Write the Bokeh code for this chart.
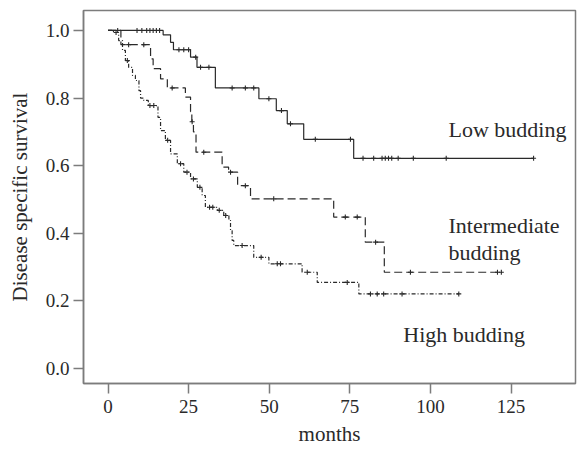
import numpy as np
from bokeh.plotting import figure
from bokeh.models import Range1d, FixedTicker, Label, PrintfTickFormatter
from bokeh.embed import file_html
from bokeh.resources import INLINE

# ---- data ----
low_times = [0, 17.1, 19.4, 20.3, 25.6, 27.6, 33.3, 46.8, 52.2, 55.6, 60.7, 76.2]
low_surv = [1.0, 0.987, 0.965, 0.943, 0.921, 0.891, 0.830, 0.798, 0.763, 0.724, 0.678, 0.622]
low_end = 132
low_censor = [3, 9, 10.5, 12, 13, 14, 15, 16, 22, 23.5, 25, 27.2, 28.7, 31.3, 38.5, 42.6,
              45.2, 49.9, 53.8, 56.6, 64.3, 75.2, 79.1, 82.4, 85, 86, 87, 88, 90, 94.7,
              104.9, 132]

mid_times = [0, 4.0, 13.2, 14.0, 16.3, 18.4, 24.0, 25.6, 26.0, 26.5, 27.3, 35.4, 37.4,
             40.2, 44.2, 70.0, 79.8, 85.7]
mid_surv = [1.0, 0.958, 0.916, 0.887, 0.857, 0.830, 0.803, 0.76, 0.73, 0.70, 0.640, 0.596,
            0.581, 0.541, 0.502, 0.448, 0.374, 0.285]
mid_end = 122
mid_censor = [6.4, 11.1, 19.9, 26.1, 29.7, 38, 42.6, 51.4, 73.6, 77.3, 83, 93.8, 120.8, 122]

high_times = [0, 1.7, 3.3, 4.5, 5.4, 6.4, 7.6, 8.5, 9.6, 10.1, 11.1, 12.5, 15.5, 16.3, 17.8,
              19.4, 21.5, 23.5, 25.6, 27.7, 29.2, 30.2, 33.9, 35.9, 37.5, 38.0, 38.5, 39.0,
              45.2, 49.9, 60.2, 64.9, 77.8]
high_surv = [1.0, 0.994, 0.970, 0.941, 0.911, 0.891, 0.867, 0.852, 0.822, 0.800, 0.793,
             0.778, 0.743, 0.704, 0.675, 0.635, 0.606, 0.581, 0.561, 0.536, 0.512, 0.477,
             0.468, 0.453, 0.438, 0.408, 0.379, 0.364, 0.329, 0.310, 0.285, 0.255, 0.221]
high_end = 108.8
high_censor = [2.5, 6.0, 13.0, 14.2, 18.5, 22.5, 24.5, 26.5, 28.5, 31.5, 32.5, 34.5, 36.5,
               41.6, 47.5, 52.5, 53.5, 61.8, 74.2, 81.4, 83.5, 85.5, 91.2, 108.8]

x_ticks = [0, 25, 50, 75, 100, 125]
y_ticks = [0.0, 0.2, 0.4, 0.6, 0.8, 1.0]

FONT = "Liberation Serif"
INK = "#2a2a2a"
GRAY = "#7c7c7c"

p = figure(width=580, height=452, output_backend="svg", toolbar_location=None, title=None,
           x_range=Range1d(-7.6, 145), y_range=Range1d(-0.044, 1.059),
           min_border_left=83, min_border_right=5, min_border_top=10, min_border_bottom=69,
           background_fill_color="white", border_fill_color="white")
p.xgrid.visible = False
p.ygrid.visible = False
p.outline_line_color = GRAY
p.outline_line_width = 1.5
p.outline_line_alpha = 1.0


def km(times, surv, end, censor, dash):
    xs = list(times) + [end]
    ys = list(surv) + [surv[-1]]
    p.step(xs, ys, mode="after", line_color=INK, line_width=1.2, line_dash=dash)
    t = np.array(times)
    s = np.array(surv)
    idx = np.searchsorted(t, np.array(censor), side="right") - 1
    p.scatter(censor, s[idx], marker="cross", size=5, line_color=INK, line_width=1.1)


km(low_times, low_surv, low_end, low_censor, "solid")
km(mid_times, mid_surv, mid_end, mid_censor, "8 4")
km(high_times, high_surv, high_end, high_censor, "4 2 1 2")

for ax in (p.xaxis[0], p.yaxis[0]):
    ax.axis_line_color = GRAY
    ax.axis_line_width = 1.5
    ax.major_tick_line_color = GRAY
    ax.major_tick_line_width = 1.5
    ax.major_tick_out = 10
    ax.major_tick_in = 0
    ax.minor_tick_line_color = None
    ax.major_label_text_font = FONT
    ax.major_label_text_font_size = "19px"
    ax.major_label_text_color = INK
    ax.axis_label_text_font = FONT
    ax.axis_label_text_font_size = "21px"
    ax.axis_label_text_font_style = "normal"
    ax.axis_label_text_color = INK

p.xaxis.ticker = FixedTicker(ticks=x_ticks)
p.yaxis.ticker = FixedTicker(ticks=y_ticks)
p.yaxis.formatter = PrintfTickFormatter(format="%.1f")
p.xaxis.axis_label = "months"
p.yaxis.axis_label = "Disease specific survival"
p.xaxis.major_label_standoff = 6
p.xaxis.axis_label_standoff = 6
p.yaxis.major_label_standoff = 4
p.yaxis.axis_label_standoff = 11

labels = [("Low budding", 105.6, 0.708),
          ("Intermediate", 105.6, 0.424),
          ("budding", 105.6, 0.343),
          ("High budding", 91.6, 0.102)]
for txt, lx, ly in labels:
    p.add_layout(Label(x=lx, y=ly, text=txt, text_font=FONT, text_font_size="22px",
                       text_color=INK, text_baseline="alphabetic"))

open("out.html", "w").write(file_html(p, INLINE))
